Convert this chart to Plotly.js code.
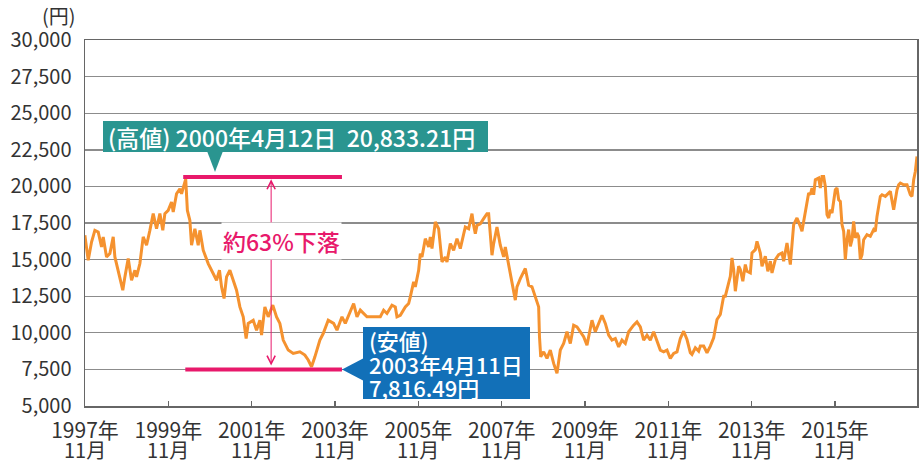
<!DOCTYPE html>
<html><head><meta charset="utf-8">
<script src="https://cdn.plot.ly/plotly-3.0.1.min.js"></script>
<style>html,body{margin:0;padding:0;background:#fff}#chart{width:922px;height:463px}</style>
</head><body><div id="chart"></div>
<script>
// Nikkei average (yen); x = decimal year
const years = [1997.83,1997.91,1997.99,1998.07,1998.15,1998.23,1998.27,1998.35,1998.43,1998.51,1998.55,1998.63,1998.74,1998.79,1998.87,1998.95,1999.03,1999.07,1999.15,1999.23,1999.31,1999.39,1999.47,1999.55,1999.63,1999.70,1999.75,1999.83,1999.91,1999.95,2000.03,2000.11,2000.15,2000.25,2000.29,2000.35,2000.39,2000.47,2000.55,2000.59,2000.67,2000.79,2000.87,2000.99,2001.06,2001.11,2001.17,2001.23,2001.31,2001.39,2001.47,2001.55,2001.63,2001.70,2001.75,2001.87,2001.95,2002.03,2002.07,2002.15,2002.23,2002.34,2002.43,2002.51,2002.59,2002.71,2002.83,2002.99,2003.11,2003.19,2003.27,2003.35,2003.47,2003.55,2003.67,2003.80,2003.88,2004.00,2004.08,2004.28,2004.36,2004.44,2004.60,2004.76,2004.92,2005.00,2005.08,2005.20,2005.28,2005.32,2005.40,2005.52,2005.60,2005.64,2005.72,2005.76,2005.84,2005.88,2005.92,2006.00,2006.08,2006.12,2006.16,2006.24,2006.32,2006.40,2006.48,2006.52,2006.60,2006.68,2006.76,2006.84,2006.96,2007.04,2007.12,2007.16,2007.20,2007.24,2007.32,2007.40,2007.48,2007.52,2007.60,2007.64,2007.72,2007.80,2007.88,2007.92,2008.00,2008.08,2008.16,2008.20,2008.28,2008.40,2008.48,2008.56,2008.64,2008.72,2008.74,2008.77,2008.84,2008.92,2009.00,2009.08,2009.16,2009.24,2009.32,2009.40,2009.48,2009.56,2009.64,2009.72,2009.80,2009.88,2009.96,2010.00,2010.08,2010.16,2010.24,2010.32,2010.40,2010.48,2010.56,2010.64,2010.72,2010.80,2010.88,2011.00,2011.08,2011.16,2011.24,2011.32,2011.40,2011.48,2011.56,2011.64,2011.72,2011.80,2011.88,2011.96,2012.04,2012.12,2012.20,2012.28,2012.36,2012.40,2012.48,2012.56,2012.60,2012.68,2012.76,2012.84,2012.92,2013.00,2013.08,2013.16,2013.20,2013.28,2013.32,2013.36,2013.40,2013.44,2013.52,2013.56,2013.62,2013.68,2013.72,2013.80,2013.84,2013.92,2013.96,2014.04,2014.08,2014.16,2014.22,2014.28,2014.32,2014.40,2014.48,2014.56,2014.60,2014.68,2014.76,2014.84,2014.92,2015.00,2015.04,2015.08,2015.16,2015.20,2015.24,2015.28,2015.32,2015.36,2015.44,2015.48,2015.52,2015.56,2015.60,2015.64,2015.68,2015.72,2015.76,2015.84,2015.88,2015.92,2015.96,2016.00,2016.04,2016.08,2016.12,2016.16,2016.20,2016.24,2016.28,2016.32,2016.36,2016.40,2016.44,2016.48,2016.52,2016.60,2016.68,2016.76,2016.80,2016.84,2016.92,2016.96,2017.04,2017.08,2017.12,2017.16,2017.24,2017.32,2017.36,2017.40,2017.48,2017.56,2017.64,2017.68,2017.72,2017.76,2017.80];
const nikkei = [16660,14950,16200,17000,16890,15860,16550,15180,15410,16550,15180,14270,12910,13820,15070,13590,14270,13820,14730,16550,15980,17000,18140,17110,18140,17000,18140,18360,18930,18250,19500,19840,19500,20500,18360,17680,15980,17110,15980,17000,15640,14730,14270,13590,14270,13140,12340,13820,14270,13590,12910,11770,11090,9610,10640,10860,10180,10860,9840,11770,11090,11890,11090,10640,9500,8820,8590,8700,8480,8140,7680,8360,9500,9950,10860,10640,10180,11090,10640,12000,11090,11550,11090,11090,11100,11540,11320,11890,11770,11090,11200,11770,12000,12450,13480,13140,14270,15410,15180,16430,15860,16550,15750,17570,17110,14840,15180,14840,16090,15640,16430,15750,17230,17110,18140,17340,16770,17340,17450,17800,18140,18140,15300,16090,17230,15980,15180,15860,14730,13360,12230,13140,13700,14390,13250,13140,12450,11770,9730,8360,8700,8250,8820,7910,7230,8820,9270,10070,9270,10520,10410,10070,9730,9160,10180,10860,10070,10640,11200,10640,9840,9500,9610,9040,9500,9270,10070,10520,10750,10410,9500,9840,9500,10070,9500,8820,8700,8820,8250,8590,8700,9610,10110,9540,8640,8520,8980,8750,9090,9090,8640,9090,9660,10910,11250,12500,12500,13520,13860,15110,14320,12840,14550,14320,13520,14660,14200,14090,15450,15680,16250,15450,14550,15230,14200,14890,14090,15000,15340,15450,14890,16140,14660,17390,17840,17270,16930,17610,18860,19550,19430,19890,19430,20450,20570,19890,20680,20680,20000,18070,17840,18410,18180,19770,19890,19090,18980,17390,16930,15000,16360,17050,15910,16360,17610,16480,16820,16590,15000,15340,16360,16700,16590,17050,16930,17950,19320,19430,19320,19430,19550,19660,18410,19770,20110,20230,20110,20110,19430,19320,20450,21020,22050];

const tickYears = [1997,1999,2001,2003,2005,2007,2009,2011,2013,2015];
const tickMonth = '11月';
const highLabel = '(高値) 2000年4月12日\u00A0\u00A020,833.21円';
const lowLabel = ['(安値)', '2003年4月11日', '7,816.49円'];
const dropLabel = '約63%下落';
const highLevel = 20650, lowLevel = 7500;

const FONT = '"Noto Sans CJK JP", "Noto Sans", sans-serif';
const PINK = '#e8196b', TEAL = '#2a9590', BLUE = '#1270b8', ORANGE = '#f5922f';
// pixel -> paper helpers (plot area: x 85..917, y 40..406)
const PX = p => (p - 85) / 832;
const PY = p => (406 - p) / 366;

const tickvals = tickYears.map(y => y + 10/12);

const annotations = [];
tickvals.forEach(v => annotations.push({
  x: v, xref: 'x', y: PY(450), yref: 'paper', text: tickMonth, showarrow: false,
  xanchor: 'center', yanchor: 'middle', font: {family: FONT, size: 20, color: '#333'}
}));
annotations.push({x: PX(59), xref: 'paper', y: PY(16), yref: 'paper', text: '(円)', showarrow: false,
  xanchor: 'center', yanchor: 'middle', font: {family: FONT, size: 20, color: '#333'}});
// double arrow
annotations.push({x: 2002.30, y: 20480, xref: 'x', yref: 'y', ax: 2002.30, ay: 7660, axref: 'x', ayref: 'y',
  text: '', showarrow: true, arrowhead: 5, startarrowhead: 5, arrowside: 'end+start', arrowsize: 1.6, startarrowsize: 1.6,
  arrowwidth: 1, arrowcolor: PINK});
annotations.push({x: PX(281.5), xref: 'paper', y: PY(241), yref: 'paper', text: dropLabel, showarrow: false,
  xanchor: 'center', yanchor: 'middle', bgcolor: '#fff', borderpad: 1, font: {family: FONT, size: 23, weight: 500, color: PINK}});
annotations.push({x: PX(106), xref: 'paper', y: PY(136.5), yref: 'paper', text: highLabel, showarrow: false,
  xanchor: 'left', yanchor: 'middle', font: {family: FONT, size: 23, weight: 500, color: '#fff'}});
const lowY = [340, 364, 387];
lowLabel.forEach((t, i) => annotations.push({x: PX(367), xref: 'paper', y: PY(lowY[i]), yref: 'paper', text: t,
  showarrow: false, xanchor: 'left', yanchor: 'middle', font: {family: FONT, size: 22, weight: 500, color: '#fff'}}));

const shapes = [
  {type: 'line', xref: 'x', yref: 'y', x0: 2000.19, x1: 2004.00, y0: highLevel, y1: highLevel, line: {color: PINK, width: 4}},
  {type: 'line', xref: 'x', yref: 'y', x0: 2000.24, x1: 2004.00, y0: lowLevel, y1: lowLevel, line: {color: PINK, width: 4}},
  {type: 'rect', xref: 'paper', yref: 'paper', x0: PX(103), x1: PX(488), y0: PY(152), y1: PY(121), fillcolor: TEAL, line: {width: 0}},
  {type: 'path', xref: 'paper', yref: 'paper', path: `M${PX(207)},${PY(151)} L${PX(223)},${PY(151)} L${PX(215)},${PY(172)} Z`, fillcolor: TEAL, line: {width: 0}},
  {type: 'rect', xref: 'paper', yref: 'paper', x0: PX(363), x1: PX(530), y0: PY(399), y1: PY(327), fillcolor: BLUE, line: {width: 0}},
  {type: 'path', xref: 'paper', yref: 'paper', path: `M${PX(364)},${PY(358)} L${PX(364)},${PY(381)} L${PX(342)},${PY(369.5)} Z`, fillcolor: BLUE, line: {width: 0}}
];

const data = [{x: years, y: nikkei, type: 'scatter', mode: 'lines', line: {color: ORANGE, width: 3}, hoverinfo: 'x+y'}];

const layout = {
  width: 922, height: 463,
  margin: {l: 85, r: 5, t: 40, b: 57},
  paper_bgcolor: '#fff', plot_bgcolor: '#fff',
  showlegend: false,
  font: {family: FONT, color: '#333'},
  xaxis: {range: [1997.833, 2017.80], tickvals: tickvals, ticktext: tickYears.map(y => y + '年'),
    ticks: 'inside', ticklen: 5, tickwidth: 1.3, tickcolor: '#666', showgrid: false, zeroline: false,
    showline: true, linecolor: '#666', linewidth: 1.5, mirror: true,
    tickfont: {family: FONT, size: 21, color: '#333'}, ticklabelstandoff: 5},
  yaxis: {range: [5000, 30000], dtick: 2500, tick0: 5000, tickformat: ',d', ticks: '',
    showgrid: true, gridcolor: '#8c8c8c', gridwidth: 1.4, zeroline: false,
    showline: true, linecolor: '#666', linewidth: 1.5, mirror: true,
    tickfont: {family: FONT, size: 20, color: '#333'}, ticklabelstandoff: 8},
  shapes: shapes,
  annotations: annotations
};

Plotly.newPlot('chart', data, layout, {displayModeBar: false, staticPlot: true});
</script>
</body></html>
